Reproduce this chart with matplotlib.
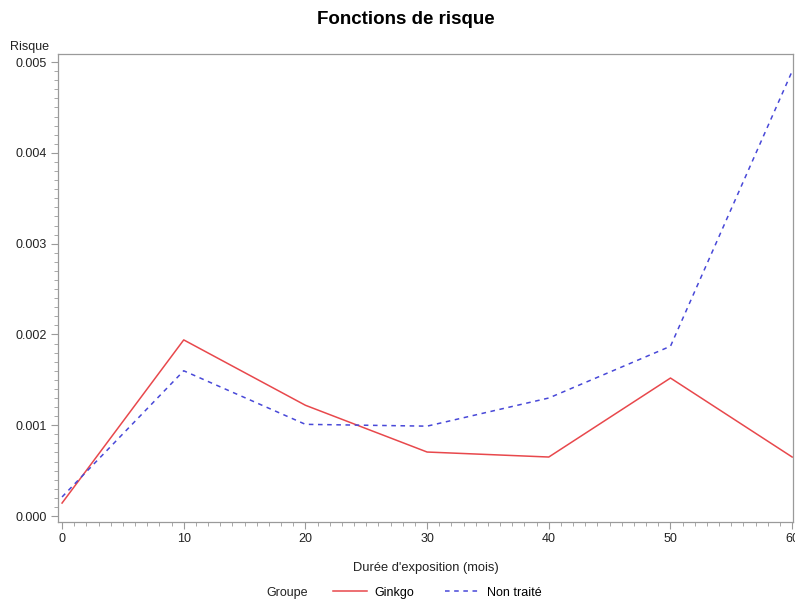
import matplotlib

matplotlib.use("Agg")

import matplotlib.pyplot as plt
from matplotlib.lines import Line2D
from matplotlib.ticker import MultipleLocator, FormatStrFormatter

plt.rcParams["font.family"] = ["Liberation Sans", "DejaVu Sans"]

# données
duree = [0, 10, 20, 30, 40, 50, 60]
risque_ginkgo = [0.000143, 0.00194, 0.00122, 0.000705, 0.00065, 0.00152, 0.00065]
risque_non_traite = [0.00021, 0.0016, 0.00101, 0.00099, 0.0013, 0.00187, 0.0049]
x_ticks = [0, 10, 20, 30, 40, 50, 60]
y_ticks = [0.000, 0.001, 0.002, 0.003, 0.004, 0.005]

ROUGE = "#E8484C"
BLEU = "#4848D8"
GRIS = "#9A9A9A"
TEXTE = "#222222"

fig = plt.figure(figsize=(7.95, 6.01), dpi=100)
ax = fig.add_axes([0.073, 0.1314, 0.9245, 0.7786])

ax.plot(duree, risque_ginkgo, color=ROUGE, lw=1.1, label="Ginkgo")
ax.plot(duree, risque_non_traite, color=BLEU, lw=1.1, ls=(0, (3, 3)), label="Non traité")

ax.set_xlim(-0.33, 60.07)
ax.set_ylim(-0.000066, 0.005088)
ax.set_xticks(x_ticks)
ax.set_yticks(y_ticks)
ax.xaxis.set_minor_locator(MultipleLocator(1))
ax.yaxis.set_minor_locator(MultipleLocator(0.0001))
ax.yaxis.set_major_formatter(FormatStrFormatter("%.3f"))

for spine in ax.spines.values():
    spine.set_color(GRIS)
    spine.set_linewidth(0.9)

ax.tick_params(which="major", length=5, color=GRIS, labelsize=9, labelcolor=TEXTE, pad=3)
ax.tick_params(which="minor", length=3, color=GRIS)

ax.set_xlabel("Durée d'exposition (mois)", fontsize=9.3, color=TEXTE, labelpad=12)
fig.text(0.013, 0.911, "Risque", fontsize=9, color=TEXTE, ha="left", va="bottom")

fig.suptitle("Fonctions de risque", fontsize=13.5, fontweight="bold", x=0.51, y=0.982)

# légende en bas
fig.text(0.387, 0.0035, "Groupe", fontsize=9, color=TEXTE, ha="right", va="bottom")
poignees = [
    Line2D([], [], color=ROUGE, lw=1.1),
    Line2D([], [], color=BLEU, lw=1.1, ls=(0, (3, 3))),
]
fig.legend(
    poignees,
    ["Ginkgo", "Non traité"],
    loc="lower left",
    bbox_to_anchor=(0.405, -0.015),
    ncol=2,
    frameon=False,
    fontsize=9,
    handlelength=2.7,
    handletextpad=0.6,
    columnspacing=2.5,
)

fig.savefig("out.png", dpi=100)
plt.close(fig)
